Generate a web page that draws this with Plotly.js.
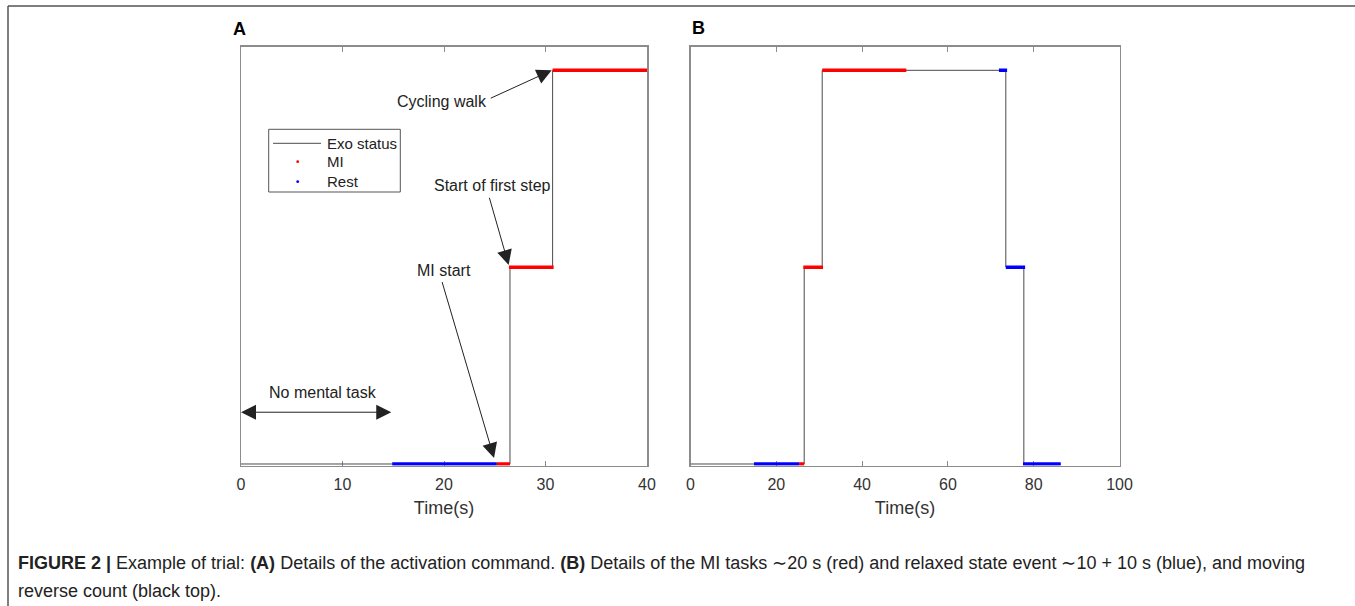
<!DOCTYPE html>
<html>
<head>
<meta charset="utf-8">
<script src="https://cdn.plot.ly/plotly-3.0.1.min.js"></script>
<style>html,body{margin:0;padding:0;background:#fff;}#chart{width:1355px;height:606px;}</style>
</head>
<body>
<div id="chart"></div>
<script>
// ---- Panel A data ----
const exoA_x = [0, 26.5, 30.7, 40];
const exoA_y = [0, 1, 2, 2];
const miA_x = [25.2, 26.5, null, 26.4, 30.8, null, 30.7, 40.1];
const miA_y = [0, 0, null, 1, 1, null, 2, 2];
const restA_x = [14.9, 25.2];
const restA_y = [0, 0];

// ---- Panel B data ----
const exoB_x = [0, 26.5, 30.7, 73.5, 77.7, 86.3];
const exoB_y = [0, 1, 2, 1, 0, 0];
const miB_x = [25.3, 26.5, null, 26.3, 30.9, null, 30.7, 50.3];
const miB_y = [0, 0, null, 1, 1, null, 2, 2];
const restB_x = [14.8, 25.3, null, 71.9, 73.8, null, 73.5, 78, null, 77.5, 86.3];
const restB_y = [0, 0, null, 2, 2, null, 1, 1, null, 0, 0];

// ---- Tick labels ----
const ticksA = [0, 10, 20, 30, 40];
const ticksB = [0, 20, 40, 60, 80, 100];

const legendLabels = ['Exo status', 'MI', 'Rest'];
const colExo = '#4a4a4a', colMI = '#ff0000', colRest = '#0000ff';

const W = 1355, H = 606;
const px = v => v / W;
const py = v => 1 - v / H;
const FAM = 'Liberation Sans, Arial, sans-serif';

const traces = [
  {x: exoA_x, y: exoA_y, xaxis: 'x', yaxis: 'y', mode: 'lines', line: {shape: 'hv', color: colExo, width: 1}, name: 'Exo status', showlegend: false},
  {x: restA_x, y: restA_y, xaxis: 'x', yaxis: 'y', mode: 'lines', line: {color: colRest, width: 3.5}, name: 'Rest', showlegend: false},
  {x: miA_x, y: miA_y, xaxis: 'x', yaxis: 'y', mode: 'lines', line: {color: colMI, width: 3.5}, name: 'MI', showlegend: false},
  {x: exoB_x, y: exoB_y, xaxis: 'x2', yaxis: 'y2', mode: 'lines', line: {shape: 'hv', color: colExo, width: 1}, name: 'Exo status', showlegend: false},
  {x: restB_x, y: restB_y, xaxis: 'x2', yaxis: 'y2', mode: 'lines', line: {color: colRest, width: 3.5}, name: 'Rest', showlegend: false},
  {x: miB_x, y: miB_y, xaxis: 'x2', yaxis: 'y2', mode: 'lines', line: {color: colMI, width: 3.5}, name: 'MI', showlegend: false}
];

const axisFont = {family: FAM, size: 16, color: '#333'};
const baseX = {
  showline: true, mirror: 'ticks', linecolor: '#8c8c8c', linewidth: 1.5, layer: 'below traces',
  ticks: 'inside', ticklen: 5, tickcolor: '#8c8c8c', tickwidth: 1,
  showgrid: false, zeroline: false, tickfont: axisFont, ticklabelstandoff: 4,
  title: {text: 'Time(s)', font: {family: FAM, size: 18, color: '#333'}, standoff: 9},
  fixedrange: true
};
// bottom of the plot area sits 1.5 px below y = 0 so the thick bands at y = 0 are not half-clipped
const baseY = {
  range: [-0.0076, 2.12], showline: true, mirror: true, linecolor: '#8c8c8c', linewidth: 1.5, layer: 'below traces',
  ticks: '', showticklabels: false, showgrid: false, zeroline: false, fixedrange: true
};

const txtFont = {family: FAM, size: 16, color: '#222'};
const legFont = {family: FAM, size: 15, color: '#222'};
const arrowStyle = {showarrow: true, arrowhead: 2, arrowsize: 3, arrowwidth: 1, arrowcolor: '#222', text: '', xref: 'x', yref: 'y', axref: 'x', ayref: 'y'};

const annotations = [
  // panel labels
  {xref: 'paper', yref: 'paper', x: px(239), y: py(29), text: '<b>A</b>', showarrow: false, xanchor: 'center', yanchor: 'middle', font: {family: FAM, size: 18, color: '#000'}},
  {xref: 'paper', yref: 'paper', x: px(698), y: py(28), text: '<b>B</b>', showarrow: false, xanchor: 'center', yanchor: 'middle', font: {family: FAM, size: 18, color: '#000'}},
  // arrows panel A
  Object.assign({}, arrowStyle, {x: 30.61, y: 2.0, ax: 24.46, ay: 1.855}),
  Object.assign({}, arrowStyle, {x: 26.37, y: 1.011, ax: 24.43, ay: 1.36}),
  Object.assign({}, arrowStyle, {x: 24.93, y: 0.03, ax: 19.77, ay: 0.932}),
  Object.assign({}, arrowStyle, {x: 0, y: 0.263, ax: 14.95, ay: 0.263, arrowside: 'end+start'}),
  // texts panel A
  {xref: 'x', yref: 'y', x: 24.43, y: 1.843, text: 'Cycling walk', showarrow: false, xanchor: 'right', yanchor: 'middle', font: txtFont},
  {xref: 'x', yref: 'y', x: 24.75, y: 1.415, text: 'Start of first step', showarrow: false, xanchor: 'center', yanchor: 'middle', font: txtFont},
  {xref: 'x', yref: 'y', x: 20.02, y: 0.983, text: 'MI start', showarrow: false, xanchor: 'center', yanchor: 'middle', font: txtFont},
  {xref: 'x', yref: 'y', x: 8.03, y: 0.363, text: 'No mental task', showarrow: false, xanchor: 'center', yanchor: 'middle', font: txtFont},
  // legend texts
  {xref: 'paper', yref: 'paper', x: px(325), y: py(143.3), text: legendLabels[0], showarrow: false, xanchor: 'left', yanchor: 'middle', font: legFont},
  {xref: 'paper', yref: 'paper', x: px(325), y: py(161.7), text: legendLabels[1], showarrow: false, xanchor: 'left', yanchor: 'middle', font: legFont},
  {xref: 'paper', yref: 'paper', x: px(325), y: py(181.7), text: legendLabels[2], showarrow: false, xanchor: 'left', yanchor: 'middle', font: legFont},
  // caption
  {xref: 'paper', yref: 'paper', x: px(16), y: py(563), text: '<b>FIGURE 2 |</b> Example of trial: <b>(A)</b> Details of the activation command. <b>(B)</b> Details of the MI tasks \u223C20 s (red) and relaxed state event \u223C10 + 10 s (blue), and moving', showarrow: false, xanchor: 'left', yanchor: 'middle', font: {family: FAM, size: 18, color: '#222'}},
  {xref: 'paper', yref: 'paper', x: px(16), y: py(591), text: 'reverse count (black top).', showarrow: false, xanchor: 'left', yanchor: 'middle', font: {family: FAM, size: 18, color: '#222'}}
];

const shapes = [
  // figure frame (top and left)
  {type: 'line', xref: 'paper', yref: 'paper', x0: px(8), y0: 0, x1: px(8), y1: py(6), line: {color: '#555', width: 1.5}},
  {type: 'line', xref: 'paper', yref: 'paper', x0: px(8), y0: py(6), x1: 1, y1: py(6), line: {color: '#555', width: 1.5}},
  // legend box
  {type: 'rect', xref: 'paper', yref: 'paper', x0: px(268.7), y0: py(192), x1: px(400.3), y1: py(129.3), line: {color: '#555', width: 1}, fillcolor: '#fff'},
  {type: 'line', xref: 'paper', yref: 'paper', x0: px(273), y0: py(143.3), x1: px(321), y1: py(143.3), line: {color: colExo, width: 1}},
  {type: 'circle', xref: 'paper', yref: 'paper', x0: px(296.3), y0: py(163.1), x1: px(299.1), y1: py(160.3), line: {width: 0}, fillcolor: colMI},
  {type: 'circle', xref: 'paper', yref: 'paper', x0: px(296.3), y0: py(183.1), x1: px(299.1), y1: py(180.3), line: {width: 0}, fillcolor: colRest}
];

const layout = {
  width: W, height: H,
  margin: {l: 0, r: 0, t: 0, b: 0},
  paper_bgcolor: '#fff', plot_bgcolor: '#fff',
  showlegend: false,
  xaxis: Object.assign({}, baseX, {domain: [px(241), px(647)], range: [0, 40], tickvals: ticksA, ticktext: ticksA.map(String), anchor: 'y'}),
  yaxis: Object.assign({}, baseY, {domain: [py(465.5), py(46.7)], anchor: 'x'}),
  xaxis2: Object.assign({}, baseX, {domain: [px(690.5), px(1119.5)], range: [0, 100], tickvals: ticksB, ticktext: ticksB.map(String), anchor: 'y2'}),
  yaxis2: Object.assign({}, baseY, {domain: [py(465.5), py(46.7)], anchor: 'x2'}),
  annotations: annotations,
  shapes: shapes
};

Plotly.newPlot('chart', traces, layout, {staticPlot: true, displayModeBar: false});
</script>
</body>
</html>
